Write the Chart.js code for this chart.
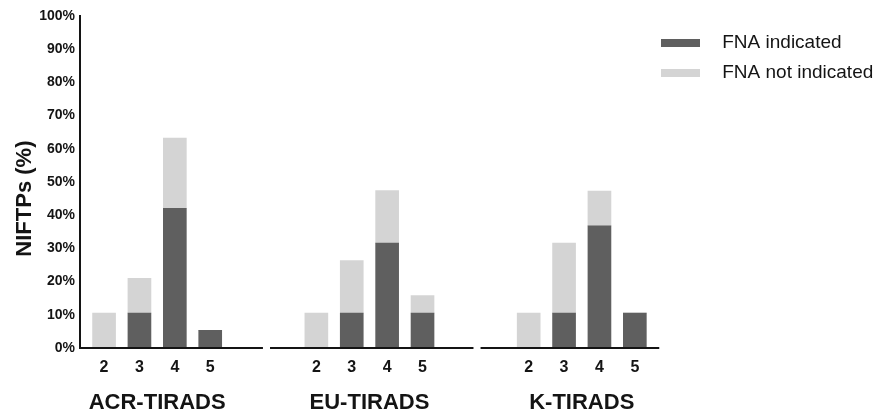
<!DOCTYPE html>
<html>
<head>
<meta charset="utf-8">
<script src="https://cdn.jsdelivr.net/npm/chart.js@4.4.1/dist/chart.umd.min.js"></script>
<style>
  body { margin: 0; background: #fff; }
  #wrap { position: relative; width: 891px; height: 415px; }
</style>
</head>
<body>
<div id="wrap"><canvas id="chart"></canvas></div>
<script>
// TI-RADS categories and systems
const categories = ['2', '3', '4', '5'];
const systems = ['ACR-TIRADS', 'EU-TIRADS', 'K-TIRADS'];

// NIFTPs (%) per category, split by FNA recommendation
const acrIndicated = [0, 10.5, 42.1, 5.3];
const acrNotIndicated = [10.5, 10.5, 21.1, 0];
const euIndicated = [0, 10.5, 31.6, 10.5];
const euNotIndicated = [10.5, 15.8, 15.8, 5.3];
const kIndicated = [0, 10.5, 36.8, 10.5];
const kNotIndicated = [10.5, 21.1, 10.5, 0];

const seriesLabels = ['FNA indicated', 'FNA not indicated'];
const yTitle = 'NIFTPs (%)';

const DARK = '#5f5f5f';
const LIGHT = '#d4d4d4';
const INK = '#141414';
const FONT = '"Liberation Sans", Arial, Helvetica, sans-serif';

// two empty slots between the systems
const slotsPerGroup = categories.length + 2;
// where each broken x axis segment starts/ends, in slots from the group start
const axisSpans = [[-0.68, 4.49], [-1.31, 4.44], [-1.36, 3.69]];

function toPoints(groups) {
    const pts = [];
    groups.forEach((vals, g) => {
        vals.forEach((v, i) => pts.push({ x: g * slotsPerGroup + i, y: v }));
    });
    return pts;
}

const tickLabels = {};
systems.forEach((s, g) => {
    categories.forEach((c, i) => { tickLabels[g * slotsPerGroup + i] = c; });
});

// legend swatch, wider canvas so the text sits further right
function swatch(color) {
    const c = document.createElement('canvas');
    c.width = 61;
    c.height = 8;
    const g = c.getContext('2d');
    g.fillStyle = color;
    g.fillRect(0, 0, 39, 8);
    return c;
}
const swatches = [swatch(DARK), swatch(LIGHT)];

// broken baseline, system names under each group, y axis title
const tiradsAxes = {
    id: 'tiradsAxes',
    afterDatasetsDraw(chart) {
        const { ctx, scales: { x, y } } = chart;
        const y0 = y.getPixelForValue(0);
        ctx.save();
        ctx.strokeStyle = INK;
        ctx.lineWidth = 2;
        axisSpans.forEach(([a, b], g) => {
            const base = g * slotsPerGroup;
            ctx.beginPath();
            ctx.moveTo(x.getPixelForValue(base + a), y0);
            ctx.lineTo(x.getPixelForValue(base + b), y0);
            ctx.stroke();
        });
        ctx.font = 'bold 22px ' + FONT;
        ctx.fillStyle = INK;
        ctx.textAlign = 'center';
        ctx.textBaseline = 'middle';
        systems.forEach((name, g) => {
            const mid = g * slotsPerGroup + (categories.length - 1) / 2;
            ctx.fillText(name, x.getPixelForValue(mid), y0 + 55);
        });
        // title sits a bit below the axis middle in the original
        ctx.translate(25, y.getPixelForValue(45));
        ctx.rotate(-Math.PI / 2);
        ctx.fillText(yTitle, 0, 0);
        ctx.restore();
    }
};

new Chart(document.getElementById('chart'), {
    type: 'bar',
    data: {
        datasets: [{
            label: seriesLabels[0],
            data: toPoints([acrIndicated, euIndicated, kIndicated]),
            backgroundColor: DARK
        }, {
            label: seriesLabels[1],
            data: toPoints([acrNotIndicated, euNotIndicated, kNotIndicated]),
            backgroundColor: LIGHT
        }]
    },
    options: {
        responsive: true,
        maintainAspectRatio: false,
        animation: false,
        barThickness: 23,
        layout: { padding: { top: 16, right: 12, left: 0, bottom: 0 } },
        scales: {
            x: {
                type: 'linear',
                stacked: true,
                offset: false,
                min: -0.68,
                max: 15.69,
                grid: { display: false, drawTicks: false },
                border: { display: false },
                afterBuildTicks: scale => {
                    scale.ticks = Object.keys(tickLabels).map(v => ({ value: +v }));
                },
                afterFit: scale => { scale.height = 67; },
                ticks: {
                    autoSkip: false,
                    maxRotation: 0,
                    padding: 10,
                    color: INK,
                    font: { family: FONT, size: 16, weight: 'bold' },
                    callback: v => tickLabels[v] ?? ''
                }
            },
            y: {
                stacked: true,
                min: 0,
                max: 100,
                grid: { display: false, drawTicks: false },
                border: { display: true, color: INK, width: 2 },
                afterFit: scale => { scale.width = 80; },
                ticks: {
                    stepSize: 10,
                    padding: 5,
                    color: INK,
                    font: { family: FONT, size: 14, weight: 'bold' },
                    callback: v => v + '%'
                }
            }
        },
        plugins: {
            tooltip: { enabled: false },
            legend: {
                position: 'right',
                align: 'start',
                title: { display: true, text: '', padding: 0, font: { size: 5, lineHeight: 1.3 } },
                labels: {
                    usePointStyle: true,
                    pointStyleWidth: 42.5,
                    padding: 11,
                    color: INK,
                    font: { family: FONT, size: 19 },
                    generateLabels: chart => chart.data.datasets.map((ds, i) => ({
                        text: ds.label,
                        fillStyle: ds.backgroundColor,
                        strokeStyle: ds.backgroundColor,
                        lineWidth: 0,
                        pointStyle: swatches[i],
                        hidden: false,
                        datasetIndex: i,
                        fontColor: INK
                    }))
                }
            }
        }
    },
    plugins: [tiradsAxes]
});
</script>
</body>
</html>
